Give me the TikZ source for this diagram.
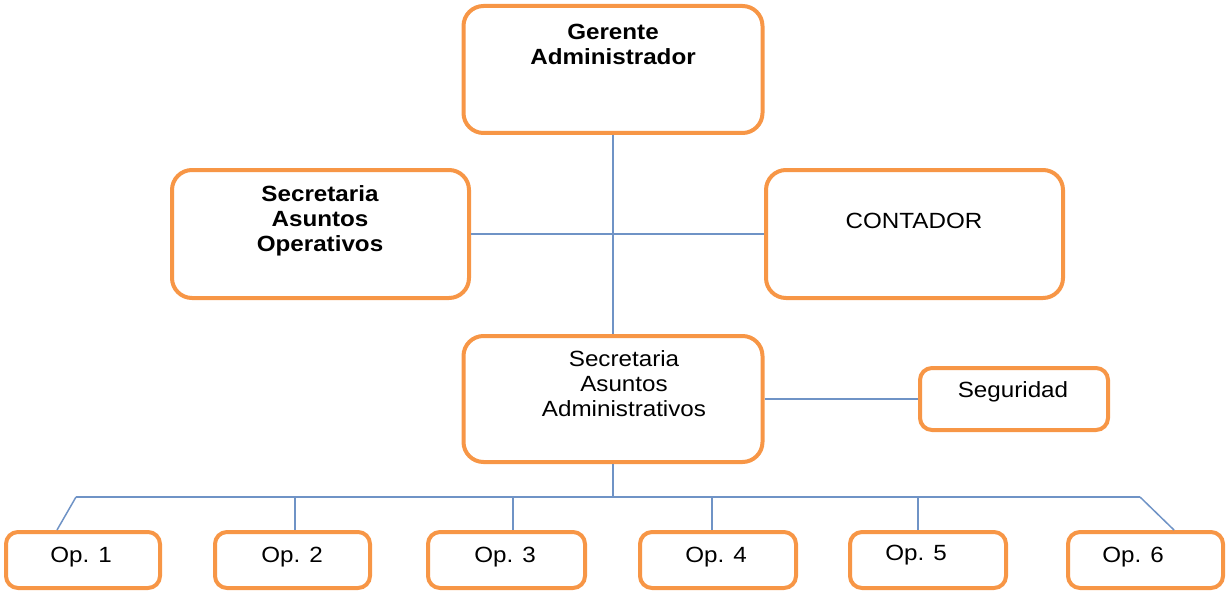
\documentclass[tikz,border=0pt]{standalone}
\usepackage{fontspec}
\setmainfont{Liberation Sans}
\newfontfamily\widefont[FakeStretch=1.1]{Liberation Sans}
\begin{document}
\begin{tikzpicture}[x=1pt,y=-1pt,
  box/.style={draw=boxorange,line width=4pt,rounded corners=20pt,fill=white,inner sep=0pt},
  smallbox/.style={draw=boxorange,line width=4pt,rounded corners=12pt,fill=white,inner sep=0pt},
  lbl/.style={font=\widefont\fontsize{22}{25}\selectfont,align=center,inner sep=0pt},
  blbl/.style={font=\widefont\fontsize{22}{25}\selectfont\bfseries,align=center,inner sep=0pt},
  conn/.style={draw=lineblue,line width=1.5pt}]
\definecolor{boxorange}{HTML}{F79646}
\definecolor{lineblue}{HTML}{6F93C6}
\useasboundingbox (0,0) rectangle (1228,591);
% boxes
\node[box,minimum width=299pt,minimum height=127pt] (ger) at (613,69.5) {};
\node[box,minimum width=297pt,minimum height=128pt] (sao) at (320.5,234) {};
\node[box,minimum width=297pt,minimum height=128pt] (cont) at (914.5,234) {};
\node[box,minimum width=299pt,minimum height=126pt] (saa) at (613,399) {};
\node[smallbox,minimum width=188pt,minimum height=62pt] (seg) at (1014,399) {};
\node[smallbox,minimum width=154pt,minimum height=56pt] (op1) at (83,560) {};
\node[smallbox,minimum width=155pt,minimum height=56pt] (op2) at (292.5,560) {};
\node[smallbox,minimum width=157pt,minimum height=56pt] (op3) at (506.5,560) {};
\node[smallbox,minimum width=156pt,minimum height=56pt] (op4) at (718,560) {};
\node[smallbox,minimum width=156pt,minimum height=56pt] (op5) at (928,560) {};
\node[smallbox,minimum width=155pt,minimum height=56pt] (op6) at (1145.5,560) {};
% texts
\node[blbl] (tger) at (613,44) {Gerente\\Administrador};
\node[blbl] (tsao) at (320,221) {Secretaria\\Asuntos\\Operativos};
\node[lbl] (tcont) at (914,221) {CONTADOR};
\node[lbl] (tsaa) at (624,384) {Secretaria\\Asuntos\\Administrativos};
\node[lbl] (tseg) at (1013,392) {Seguridad};
\node[lbl] (t1) at (81,557) {Op. 1};
\node[lbl] (t2) at (292,557) {Op. 2};
\node[lbl] (t3) at (505,557) {Op. 3};
\node[lbl] (t4) at (716,557) {Op. 4};
\node[lbl] (t5) at (916,555) {Op. 5};
\node[lbl] (t6) at (1133,557) {Op. 6};
% bus coordinates
\coordinate (bus) at (613,497);
\coordinate (bl) at (76,497);
\coordinate (br) at (1140,497);
\coordinate (e1) at (57,530);
\coordinate (e6) at (1174,530);
% connectors
\draw[conn] (ger.south) -- (saa.north);
\draw[conn] (sao.east) -- (cont.west);
\draw[conn] (saa.east) -- (seg.west);
\draw[conn] (saa.south) -- (bus);
\draw[conn] (bl) -- (br);
\draw[conn] (bl) -- (e1);
\draw[conn] (br) -- (e6);
\draw[conn] (op2.north -| 295,0) ++(0,-33) -- (op2.north -| 295,0);
\draw[conn] (op3.north -| 513,0) ++(0,-33) -- (op3.north -| 513,0);
\draw[conn] (op4.north -| 712,0) ++(0,-33) -- (op4.north -| 712,0);
\draw[conn] (op5.north -| 918,0) ++(0,-33) -- (op5.north -| 918,0);
\end{tikzpicture}
\end{document}
